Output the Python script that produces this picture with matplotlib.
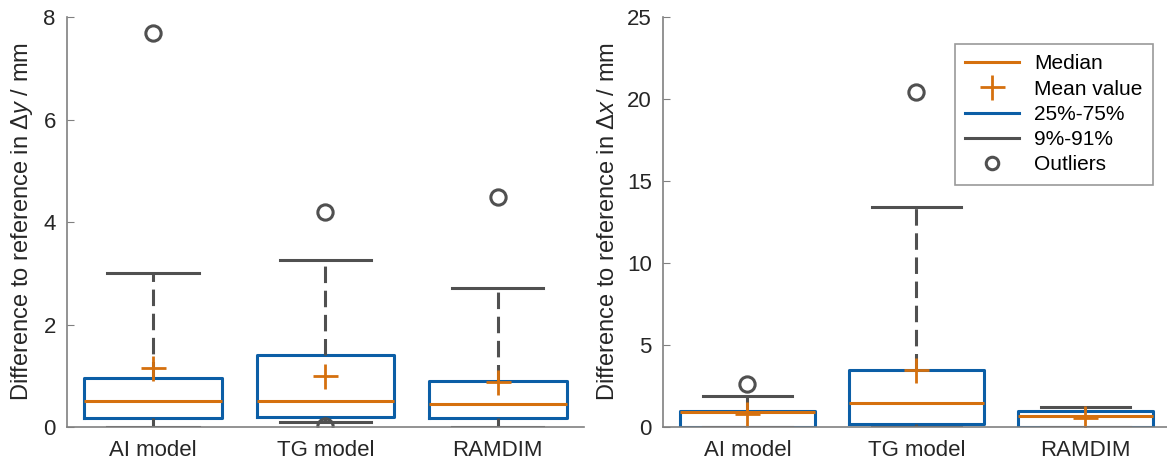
import matplotlib
matplotlib.use("Agg")
import matplotlib.pyplot as plt
from matplotlib.lines import Line2D

plt.rcParams['font.family'] = ['Liberation Sans', 'DejaVu Sans']
plt.rcParams['mathtext.fontset'] = 'custom'
plt.rcParams['mathtext.rm'] = 'Liberation Sans'
plt.rcParams['mathtext.it'] = 'Liberation Sans:italic'

categories = ['AI model', 'TG model', 'RAMDIM']

# left panel: delta y
dy_whislo = [0.0, 0.1, 0.0]
dy_q1 = [0.17, 0.2, 0.17]
dy_med = [0.5, 0.5, 0.45]
dy_q3 = [0.96, 1.4, 0.9]
dy_whishi = [3.0, 3.26, 2.71]
dy_mean = [1.15, 1.0, 0.87]
dy_fliers = [[7.69], [4.2, 0.02], [4.49]]

# right panel: delta x
dx_whislo = [0.0, 0.0, 0.0]
dx_q1 = [0.03, 0.16, 0.03]
dx_med = [0.9, 1.48, 0.69]
dx_q3 = [0.99, 3.45, 0.99]
dx_whishi = [1.91, 13.4, 1.22]
dx_mean = [0.79, 3.46, 0.57]
dx_fliers = [[2.62], [20.4], []]

ORANGE = '#D5700E'
BLUE = '#0B5EA6'
GRAY = '#505050'
SPINE = '#808080'


def make_stats(whislo, q1, med, q3, whishi, mean, fliers):
    stats = []
    for i in range(len(categories)):
        stats.append(dict(label=categories[i], whislo=whislo[i], q1=q1[i], med=med[i],
                          q3=q3[i], whishi=whishi[i], mean=mean[i], fliers=fliers[i]))
    return stats


def draw_panel(ax, stats, ymax, yticks, ylabel):
    ax.bxp(stats, positions=[1, 2, 3], widths=0.8, capwidths=0.53, showmeans=True,
           boxprops=dict(color=BLUE, linewidth=2.2),
           medianprops=dict(color=ORANGE, linewidth=2.2),
           whiskerprops=dict(color=GRAY, linewidth=2.2, linestyle=(0, (5.4, 2.5))),
           capprops=dict(color=GRAY, linewidth=2.2),
           meanprops=dict(marker='+', markersize=18, markeredgewidth=2,
                          markeredgecolor=ORANGE, color=ORANGE),
           flierprops=dict(marker='o', markersize=11, markerfacecolor='none',
                           markeredgecolor=GRAY, markeredgewidth=2.2))
    ax.set_xlim(0.5, 3.5)
    ax.set_ylim(0, ymax)
    ax.set_yticks(yticks)
    ax.set_xticks([1, 2, 3])
    ax.set_xticklabels(categories)
    for s in ['top', 'right']:
        ax.spines[s].set_visible(False)
    for s in ['left', 'bottom']:
        ax.spines[s].set_color(SPINE)
        ax.spines[s].set_linewidth(1.2)
    ax.tick_params(axis='y', direction='in', length=5, color=SPINE, labelsize=16,
                   labelcolor='#262626', pad=8)
    ax.tick_params(axis='x', length=0, labelsize=16, labelcolor='#262626', pad=9)
    ax.set_ylabel(ylabel, fontsize=17, color='#262626', labelpad=6)


fig = plt.figure(figsize=(11.67, 4.65), dpi=100)
ax1 = fig.add_axes([0.0574, 0.0817, 0.443, 0.8817])
ax2 = fig.add_axes([0.568, 0.0817, 0.4345, 0.8817])

draw_panel(ax1, make_stats(dy_whislo, dy_q1, dy_med, dy_q3, dy_whishi, dy_mean, dy_fliers),
           8, [0, 2, 4, 6, 8], r'Difference to reference in $\Delta y$ / mm')
draw_panel(ax2, make_stats(dx_whislo, dx_q1, dx_med, dx_q3, dx_whishi, dx_mean, dx_fliers),
           25, [0, 5, 10, 15, 20, 25], r'Difference to reference in $\Delta x$ / mm')

handles = [
    Line2D([], [], color=ORANGE, linewidth=2.2),
    Line2D([], [], linestyle='none', marker='+', markersize=18, markeredgewidth=2,
           color=ORANGE),
    Line2D([], [], color=BLUE, linewidth=2.2),
    Line2D([], [], color=GRAY, linewidth=2.2),
    Line2D([], [], linestyle='none', marker='o', markersize=9, markerfacecolor='none',
           markeredgecolor=GRAY, markeredgewidth=2.2),
]
labels = ['Median', 'Mean value', '25%-75%', '9%-91%', 'Outliers']
leg = ax2.legend(handles, labels, loc='upper right', bbox_to_anchor=(0.966, 0.934),
                 borderaxespad=0, fontsize=15, frameon=True, fancybox=False,
                 handlelength=2.6, labelspacing=0.3, borderpad=0.5, handletextpad=0.7)
leg.get_frame().set_edgecolor(SPINE)
leg.get_frame().set_linewidth(1.2)

fig.savefig('out.png', dpi=100)
